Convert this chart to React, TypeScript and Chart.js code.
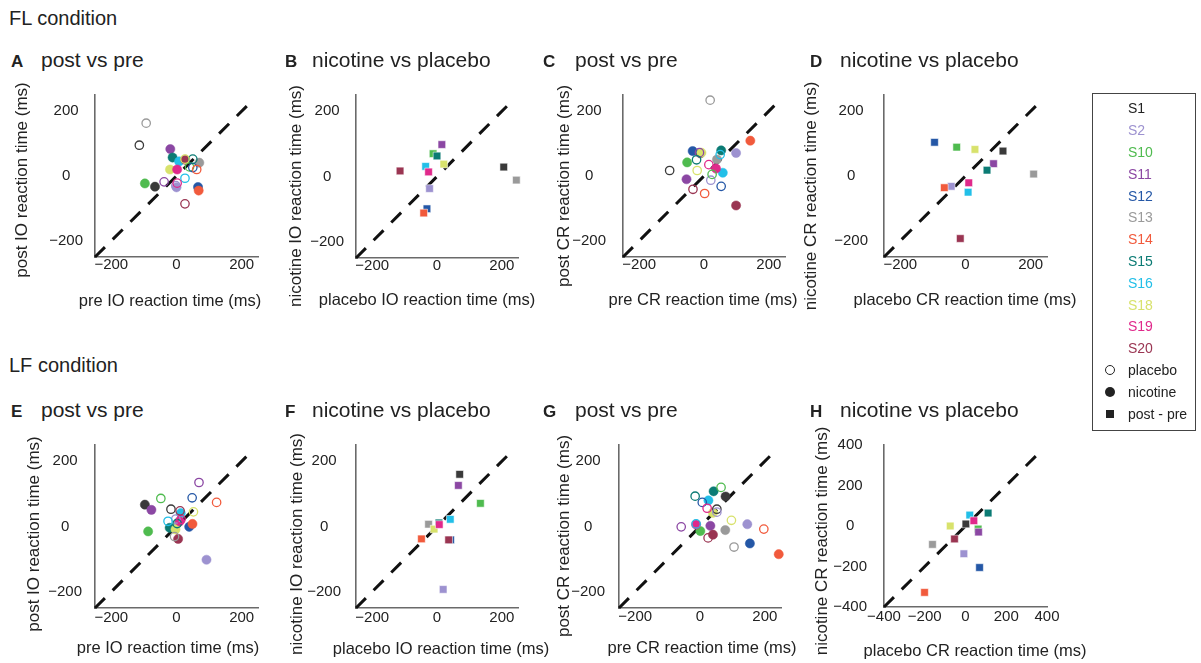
import React, { useEffect, useRef } from 'react';
import { Chart, registerables } from 'chart.js';

Chart.register(...registerables);

type Pt = [number, number];

const FONT = "'Liberation Sans', Arial, Helvetica, sans-serif";

// Subjects and their colours
const subjects = ['S1', 'S2', 'S10', 'S11', 'S12', 'S13', 'S14', 'S15', 'S16', 'S18', 'S19', 'S20'];
const subjectColors = ['#3a3a3a', '#9d92d0', '#4fbb4f', '#8b47a3', '#2457a6', '#9a9a9a', '#f15a3c', '#0b7b74', '#22bfe8', '#d8e26c', '#e0298b', '#9a3552'];

// Tick values
const ticksPm200 = [-200, 0, 200];
const ticksPm400 = [-400, -200, 0, 200, 400];

// FL condition, IO: [pre, post] per subject
const flIoPlacebo: Pt[] = [[-114, 95], [-2, -30], [40, 28], [-38, -18], [50, 26], [-93, 163], [62, 20], [50, 52], [26, -7], [26, 52], [2, -22], [26, -86]];
const flIoNicotine: Pt[] = [[-66, -33], [0, -35], [-97, -23], [-19, 83], [66, -34], [70, 41], [68, -45], [-12, 57], [8, 45], [-20, 20], [2, 20], [27, 50]];
// FL condition, IO: [placebo post-pre, nicotine post-pre]
const flIoDiff: Pt[] = [[206, 29], [-23, -37], [-12, 70], [15, 98], [-31, -99], [245, -11], [-41, -112], [0, 63], [-35, 31], [21, 38], [-26, 14], [-114, 17]];
// FL condition, CR
const flCrPlacebo: Pt[] = [[-106, 17], [21, -13], [25, 5], [-14, 72], [53, -32], [19, 234], [2, -54], [-23, 50], [50, 66], [-21, 17], [15, 35], [-34, -41]];
const flCrNicotine: Pt[] = [[-11, 70], [99, 71], [-52, 42], [-54, -10], [-35, 77], [40, 51], [143, 109], [53, 79], [58, 10], [-8, 72], [37, 23], [99, -91]];
const flCrDiff: Pt[] = [[115, 77], [-44, -32], [-27, 89], [86, 38], [-95, 104], [209, 6], [-65, -36], [66, 18], [8, -50], [29, 82], [10, -21], [-16, -193]];
// LF condition, IO
const lfIoPlacebo: Pt[] = [[-17, 53], [-2, 23], [-48, 86], [69, 135], [48, 88], [-6, -31], [123, 74], [2, 9], [-26, 16], [52, 45], [14, 22], [11, 48]];
const lfIoNicotine: Pt[] = [[-97, 67], [92, -102], [-87, -15], [-77, 51], [39, -1], [5, 12], [49, 8], [-21, -4], [13, 41], [-3, -9], [10, 16], [5, -38]];
const lfIoDiff: Pt[] = [[70, 160], [19, -193], [134, 71], [66, 126], [42, -41], [-26, 7], [-48, -38], [6, 11], [41, 22], [-9, -8], [7, 6], [36, -41]];
// LF condition, CR
const lfCrPlacebo: Pt[] = [[52, 53], [52, 44], [65, 120], [-58, -1], [7, 74], [105, -63], [197, -8], [-15, 93], [-12, 8], [97, 19], [22, 56], [25, -35]];
const lfCrNicotine: Pt[] = [[79, 92], [146, 7], [1, -14], [32, 2], [154, -52], [78, -11], [243, -85], [42, 108], [26, 80], [40, 42], [-12, 6], [40, -25]];
const lfCrDiff: Pt[] = [[2, 10], [-8, -137], [62, -15], [64, -30], [69, -205], [-162, -91], [-201, -328], [111, 64], [21, 54], [-75, 0], [41, 26], [-54, -64]];

type PanelCfg = {
  letter: string; title: string; kind: 'circle' | 'square';
  placebo?: Pt[]; nicotine?: Pt[]; diff?: Pt[];
  xLabel: string; yLabel: string; range: number; ticks: number[]; diagEnd: number;
  L: number; T: number; R: number; B: number;
  yTitleX: number; yTitleCY: number; xTitleY: number; xTitleCX: number; yPad: number; xPad: number;
  letterX: number; titleX: number; baseline: number;
};

const panels: PanelCfg[] = [
  { letter: 'A', title: 'post vs pre', kind: 'circle', placebo: flIoPlacebo, nicotine: flIoNicotine, xLabel: 'pre IO reaction time (ms)', yLabel: 'post IO reaction time (ms)', range: 250, ticks: ticksPm200, diagEnd: 225, L: 95, T: 95, R: 258, B: 257, yTitleX: 22, yTitleCY: 180, xTitleY: 301, xTitleCX: 170, yPad: 12, xPad: 8, letterX: 11, titleX: 41, baseline: 67 },
  { letter: 'B', title: 'nicotine vs placebo', kind: 'square', diff: flIoDiff, xLabel: 'placebo IO reaction time (ms)', yLabel: 'nicotine IO reaction time (ms)', range: 250, ticks: ticksPm200, diagEnd: 225, L: 356, T: 95, R: 518, B: 258, yTitleX: 296, yTitleCY: 196, xTitleY: 300, xTitleCX: 427, yPad: 12, xPad: 8, letterX: 285, titleX: 312, baseline: 67 },
  { letter: 'C', title: 'post vs pre', kind: 'circle', placebo: flCrPlacebo, nicotine: flCrNicotine, xLabel: 'pre CR reaction time (ms)', yLabel: 'post CR reaction time (ms)', range: 250, ticks: ticksPm200, diagEnd: 225, L: 623, T: 95, R: 785, B: 257, yTitleX: 564, yTitleCY: 186, xTitleY: 300, xTitleCX: 703, yPad: 17, xPad: 8, letterX: 543, titleX: 575, baseline: 67 },
  { letter: 'D', title: 'nicotine vs placebo', kind: 'square', diff: flCrDiff, xLabel: 'placebo CR reaction time (ms)', yLabel: 'nicotine CR reaction time (ms)', range: 250, ticks: ticksPm200, diagEnd: 225, L: 884, T: 95, R: 1047, B: 257, yTitleX: 811, yTitleCY: 196, xTitleY: 300, xTitleCX: 965, yPad: 16, xPad: 8, letterX: 810, titleX: 840, baseline: 67 },
  { letter: 'E', title: 'post vs pre', kind: 'circle', placebo: lfIoPlacebo, nicotine: lfIoNicotine, xLabel: 'pre IO reaction time (ms)', yLabel: 'post IO reaction time (ms)', range: 250, ticks: ticksPm200, diagEnd: 225, L: 95, T: 445, R: 258, B: 608, yTitleX: 34, yTitleCY: 534, xTitleY: 648, xTitleCX: 168, yPad: 13, xPad: 10, letterX: 11, titleX: 41, baseline: 417 },
  { letter: 'F', title: 'nicotine vs placebo', kind: 'square', diff: lfIoDiff, xLabel: 'placebo IO reaction time (ms)', yLabel: 'nicotine IO reaction time (ms)', range: 250, ticks: ticksPm200, diagEnd: 225, L: 356, T: 445, R: 518, B: 608, yTitleX: 297, yTitleCY: 544, xTitleY: 649, xTitleCX: 441, yPad: 15, xPad: 10, letterX: 285, titleX: 312, baseline: 417 },
  { letter: 'G', title: 'post vs pre', kind: 'circle', placebo: lfCrPlacebo, nicotine: lfCrNicotine, xLabel: 'pre CR reaction time (ms)', yLabel: 'post CR reaction time (ms)', range: 250, ticks: ticksPm200, diagEnd: 225, L: 619, T: 445, R: 781, B: 608, yTitleX: 564, yTitleCY: 536, xTitleY: 648, xTitleCX: 702, yPad: 14, xPad: 9, letterX: 543, titleX: 575, baseline: 417 },
  { letter: 'H', title: 'nicotine vs placebo', kind: 'square', diff: lfCrDiff, xLabel: 'placebo CR reaction time (ms)', yLabel: 'nicotine CR reaction time (ms)', range: 400, ticks: ticksPm400, diagEnd: 360, L: 884, T: 445, R: 1047, B: 607, yTitleX: 822, yTitleCY: 541, xTitleY: 651, xTitleCX: 975, yPad: 17, xPad: 10, letterX: 810, titleX: 840, baseline: 417 },
];

const fmt = (v: number | string) => {
  const n = Number(v);
  return n < 0 ? '\u2212' + Math.abs(n) : String(n);
};

const toXY = (arr: Pt[]) => arr.map(([x, y]) => ({ x, y }));

function Panel({ p }: { p: PanelCfg }) {
  const ref = useRef<HTMLCanvasElement | null>(null);
  const xTitleSize = 16.5;
  const yTitleSize = 17;
  const canvasLeft = Math.round(p.yTitleX - 14);
  const yAxisW = p.L - canvasLeft;
  const padTop = 50;
  const padRight = 48;
  const canvasTop = p.T - padTop;
  const xAxisH = Math.round(p.xTitleY + 18 - p.B);
  const w = p.R + padRight - canvasLeft;
  const h = p.B + xAxisH - canvasTop;

  useEffect(() => {
    if (!ref.current) return;
    const datasets: any[] = [
      {
        data: [{ x: -p.range, y: -p.range }, { x: p.diagEnd, y: p.diagEnd }],
        showLine: true, borderColor: '#111', borderWidth: 3, borderDash: [14, 11],
        pointRadius: 0, fill: false, order: 3, clip: false,
      },
    ];
    if (p.kind === 'circle') {
      datasets.push({
        data: toXY(p.nicotine!), pointStyle: 'circle', pointRadius: 4.6,
        pointBackgroundColor: subjectColors, pointBorderColor: subjectColors, pointBorderWidth: 0.5,
        order: 2, clip: false,
      });
      datasets.push({
        data: toXY(p.placebo!), pointStyle: 'circle', pointRadius: 4.2,
        pointBackgroundColor: 'rgba(0,0,0,0)', pointBorderColor: subjectColors, pointBorderWidth: 1.3,
        order: 1, clip: false,
      });
    } else {
      datasets.push({
        data: toXY(p.diff!), pointStyle: 'rect', pointRadius: 5.4,
        pointBackgroundColor: subjectColors, pointBorderColor: 'rgba(255,255,255,0.55)', pointBorderWidth: 1,
        order: 1, clip: false,
      });
    }
    const axisCommon = (isX: boolean) => ({
      type: 'linear', min: -p.range, max: p.range,
      grid: { display: false, drawTicks: false },
      border: { display: true, color: '#6a6a6a', width: 1.6 },
      ticks: {
        font: { size: 15, family: FONT }, color: '#222', padding: isX ? p.xPad : p.yPad,
        maxRotation: 0, autoSkip: false, callback: fmt, crossAlign: 'center',
      },
      title: { display: false },
      afterBuildTicks: (s: any) => { s.ticks = p.ticks.map((v) => ({ value: v })); },
      afterFit: (s: any) => { if (isX) s.height = xAxisH; else s.width = yAxisW; },
    });
    const axisTitles = {
      id: 'axisTitles',
      afterDraw(chart: any) {
        const { ctx } = chart;
        ctx.save();
        ctx.fillStyle = '#222';
        ctx.textAlign = 'center';
        ctx.textBaseline = 'middle';
        ctx.font = `${xTitleSize}px ${FONT}`;
        ctx.fillText(p.xLabel, p.xTitleCX - canvasLeft, p.xTitleY - canvasTop);
        ctx.font = `${yTitleSize}px ${FONT}`;
        ctx.translate(p.yTitleX - canvasLeft, p.yTitleCY - canvasTop);
        ctx.rotate(-Math.PI / 2);
        ctx.fillText(p.yLabel, 0, 0);
        ctx.restore();
      },
    };
    const chart = new Chart(ref.current, {
      type: 'scatter',
      data: { datasets },
      options: {
        responsive: false, animation: false, events: [],
        layout: { padding: { left: 0, top: padTop, right: padRight, bottom: 0 } },
        plugins: { legend: { display: false }, tooltip: { enabled: false } },
        scales: { x: axisCommon(true) as any, y: axisCommon(false) as any },
      },
      plugins: [axisTitles],
    });
    return () => chart.destroy();
  }, []);

  return (
    <canvas ref={ref} width={w} height={h}
      style={{ position: 'absolute', left: canvasLeft, top: canvasTop, width: w, height: h }} />
  );
}

const textAt = (text: string, left: number, baseline: number, size: number, bold = false, color = '#222') => (
  <div key={text + left + baseline} style={{
    position: 'absolute', left, top: baseline - 0.8465 * size, fontSize: size, lineHeight: `${size}px`,
    fontFamily: FONT, fontWeight: bold ? 'bold' : 'normal', color, whiteSpace: 'nowrap',
  }}>{text}</div>
);

function Legend() {
  const y0 = 108.3;
  const step = 21.8;
  const items: React.ReactNode[] = [];
  subjects.forEach((s, i) => {
    items.push(
      <div key={s} style={{ position: 'absolute', left: 1128, top: y0 + step * i - 10, height: 20, lineHeight: '20px', fontSize: 14, fontFamily: FONT, color: i === 0 ? '#222' : subjectColors[i] }}>{s}</div>
    );
  });
  const extras = [
    { label: 'placebo', marker: { width: 8, height: 8, borderRadius: '50%', border: '1.3px solid #222', background: 'transparent' } },
    { label: 'nicotine', marker: { width: 10, height: 10, borderRadius: '50%', background: '#222' } },
    { label: 'post - pre', marker: { width: 8, height: 8, background: '#222' } },
  ];
  extras.forEach((e, j) => {
    const cy = y0 + step * (subjects.length + j);
    items.push(
      <div key={e.label} style={{ position: 'absolute', left: 1105, top: cy - 5, width: 10, height: 10, display: 'flex', alignItems: 'center', justifyContent: 'center' }}>
        <div style={{ boxSizing: 'content-box', ...(e.marker as any) }} />
      </div>
    );
    items.push(
      <div key={e.label + 't'} style={{ position: 'absolute', left: 1128, top: cy - 10, height: 20, lineHeight: '20px', fontSize: 14, fontFamily: FONT, color: '#222' }}>{e.label}</div>
    );
  });
  return (
    <>
      <div style={{ position: 'absolute', left: 1092, top: 93, width: 104, height: 338, border: '1px solid #444', boxSizing: 'border-box' }} />
      {items}
    </>
  );
}

export default function App() {
  return (
    <div style={{ position: 'absolute', left: 0, top: 0, width: 1201, height: 663, background: '#fff', overflow: 'hidden' }}>
      {textAt('FL condition', 9, 25, 20)}
      {textAt('LF condition', 9, 372, 20)}
      {panels.map((p) => (
        <React.Fragment key={p.letter}>
          {textAt(p.letter, p.letterX, p.baseline, 17, true)}
          {textAt(p.title, p.titleX, p.baseline, 21)}
          <Panel p={p} />
        </React.Fragment>
      ))}
      <Legend />
    </div>
  );
}
